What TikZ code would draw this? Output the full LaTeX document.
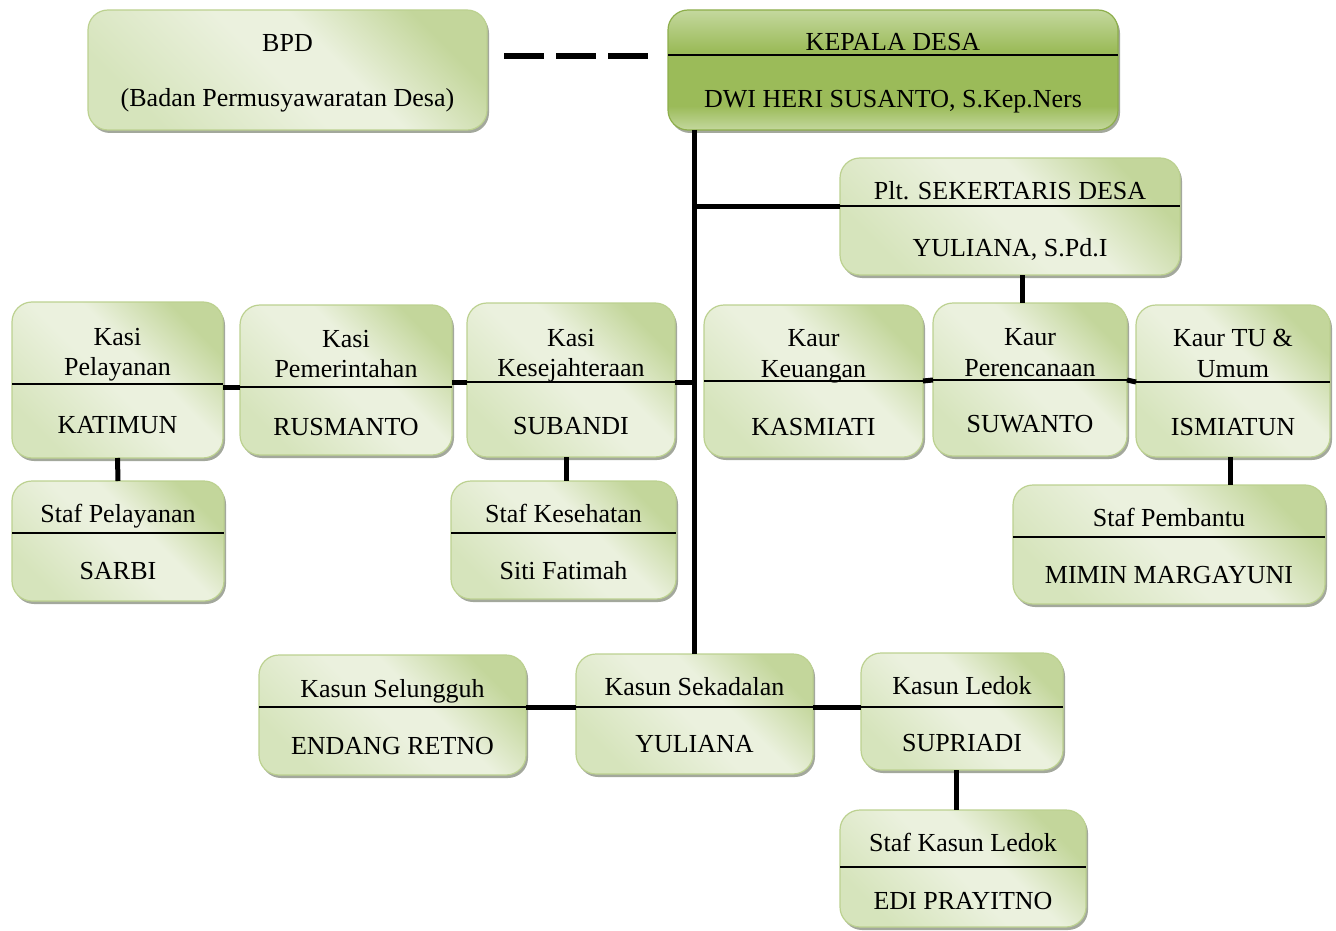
\documentclass[tikz,border=0pt]{standalone}
\usepackage{fontspec}
\setmainfont{Liberation Serif}
\usetikzlibrary{shadows}
\definecolor{gdark}{HTML}{C3D69B}
\definecolor{gmid}{HTML}{D6E4BC}
\definecolor{glight}{HTML}{EBF1DE}
\definecolor{gborder}{HTML}{BCD190}
\definecolor{kmid}{HTML}{9BBB59}
\definecolor{klight}{HTML}{C4D89E}
\definecolor{kborder}{HTML}{8DAE4B}
\definecolor{shadowgray}{HTML}{A3A89C}
\pgfdeclarehorizontalshading{boxshade}{100bp}{color(0bp)=(gmid); color(25bp)=(gmid); color(48bp)=(glight); color(58bp)=(glight); color(75bp)=(gdark); color(100bp)=(gdark)}
\pgfdeclareverticalshading{kshade}{100bp}{color(0bp)=(klight); color(25bp)=(klight); color(35bp)=(kmid); color(58bp)=(kmid); color(75bp)=(klight); color(100bp)=(klight)}
\tikzset{
  box/.style={rectangle, rounded corners=20pt, draw=gborder, line width=1.2pt, inner sep=0pt, outer sep=0pt,
    drop shadow={shadow xshift=2pt, shadow yshift=-3pt, fill=shadowgray, opacity=1},
    shade, shading=boxshade, shading angle=45},
  kbox/.style={box, draw=kborder, shading=kshade, shading angle=0},
  divider/.style={line width=2.5pt, black},
  conn/.style={line width=5pt, black},
  dashline/.style={line width=6pt, black, dash pattern=on 40pt off 12pt},
  txt/.style={font=\fontsize{26}{30}\selectfont, inner sep=0pt, anchor=base, text=black}
}
% #1 style, #2 name, #3 x1, #4 y1, #5 x2, #6 y2, #7 divider y
\newcommand{\orgbox}[7][box]{%
  \node[#1, minimum width={(#5-#3)*1pt}, minimum height={(#6-#4)*1pt}] (#2) at ({(#3+#5)/2},{(#4+#6)/2}) {};
  \coordinate (#2-dl) at (#3,#7);
  \coordinate (#2-dr) at (#5,#7);
  \draw[divider] (#2-dl) -- (#2-dr);}
% #1 name, #2 box, #3 baseline y, #4 text
\newcommand{\ot}[4]{\node[txt] (#1) at (#2.center |- 0,#3) {#4};}
\begin{document}
\begin{tikzpicture}[x=1pt, y=-1pt]
\useasboundingbox (0,0) rectangle (1336,931);

% BPD
\node[box, minimum width=399pt, minimum height=120pt] (bpd) at (287.5,70) {};
\ot{bpd-a}{bpd}{52}{BPD}
\ot{bpd-b}{bpd}{107}{(Badan Permusyawaratan Desa)}

% Kepala Desa
\orgbox[kbox]{kd}{668}{10}{1118}{130}{55}
\ot{kd-a}{kd}{51}{KEPALA DESA}
\ot{kd-b}{kd}{108}{DWI HERI SUSANTO, S.Kep.Ners}

% dashed BPD link
\coordinate (dash-a) at (504,56);
\coordinate (dash-b) at (648,56);
\draw[dashline] (dash-a) -- (dash-b);

% Sekretaris
\orgbox{sek}{840}{158}{1180}{275}{206}
\ot{sek-a}{sek}{199}{Plt. SEKERTARIS DESA}
\ot{sek-b}{sek}{256}{YULIANA, S.Pd.I}

% Kasi row
\orgbox{kpl}{12}{302}{223}{458}{384}
\ot{kpl-a}{kpl}{345}{Kasi}
\ot{kpl-b}{kpl}{375}{Pelayanan}
\ot{kpl-c}{kpl}{433}{KATIMUN}

\orgbox{kpm}{240}{305}{452}{455}{387}
\ot{kpm-a}{kpm}{347}{Kasi}
\ot{kpm-b}{kpm}{377}{Pemerintahan}
\ot{kpm-c}{kpm}{435}{RUSMANTO}

\orgbox{kkj}{467}{303}{675}{457}{382}
\ot{kkj-a}{kkj}{346}{Kasi}
\ot{kkj-b}{kkj}{376}{Kesejahteraan}
\ot{kkj-c}{kkj}{434}{SUBANDI}

% Kaur row
\orgbox{kku}{704}{305}{923}{457}{381}
\ot{kku-a}{kku}{346}{Kaur}
\ot{kku-b}{kku}{377}{Keuangan}
\ot{kku-c}{kku}{435}{KASMIATI}

\orgbox{kpr}{933}{303}{1127}{456}{380}
\ot{kpr-a}{kpr}{345}{Kaur}
\ot{kpr-b}{kpr}{376}{Perencanaan}
\ot{kpr-c}{kpr}{432}{SUWANTO}

\orgbox{ktu}{1136}{305}{1330}{457}{382}
\ot{ktu-a}{ktu}{346}{Kaur TU \&}
\ot{ktu-b}{ktu}{377}{Umum}
\ot{ktu-c}{ktu}{435}{ISMIATUN}

% Staf row
\orgbox{spl}{12}{481}{224}{601}{533}
\ot{spl-a}{spl}{522}{Staf Pelayanan}
\ot{spl-b}{spl}{579}{SARBI}

\orgbox{skk}{451}{481}{676}{599}{533}
\ot{skk-a}{skk}{522}{Staf Kesehatan}
\ot{skk-b}{skk}{579}{Siti Fatimah}

\orgbox{spb}{1013}{485}{1325}{604}{537}
\ot{spb-a}{spb}{526}{Staf Pembantu}
\ot{spb-b}{spb}{583}{MIMIN MARGAYUNI}

% Kasun row
\orgbox{ksl}{259}{655}{526}{775}{707}
\ot{ksl-a}{ksl}{697}{Kasun Selungguh}
\ot{ksl-b}{ksl}{754}{ENDANG RETNO}

\orgbox{ks}{576}{654}{813}{774}{707}
\ot{ks-a}{ks}{695}{Kasun Sekadalan}
\ot{ks-b}{ks}{752}{YULIANA}

\orgbox{kl}{861}{653}{1063}{770}{707}
\ot{kl-a}{kl}{694}{Kasun Ledok}
\ot{kl-b}{kl}{751}{SUPRIADI}

\orgbox{skl}{840}{810}{1086}{927}{867}
\ot{skl-a}{skl}{851}{Staf Kasun Ledok}
\ot{skl-b}{skl}{909}{EDI PRAYITNO}

% connectors
\coordinate (x-sp) at (1022,0);
\coordinate (x-kes) at (566,0);
\coordinate (x-tu) at (1230,0);
\coordinate (x-led) at (956,0);

\draw[conn] (kd.south -| ks.north) -- (ks.north);
\draw[conn] (sek-dl) -- (sek-dl -| ks.north);
\draw[conn] (kkj-dr) -- (kkj-dr -| ks.north);
\draw[conn] (sek.south -| x-sp) -- (kpr.north -| x-sp);

\draw[conn] (kpl.east |- kpm-dl) -- (kpm-dl);
\draw[conn] (kpm.east |- kkj-dl) -- (kkj-dl);
\draw[conn] (kku-dr) -- (kpr-dl);
\draw[conn] (kpr-dr) -- (ktu-dl);

\draw[conn] (kpl.south) -- (spl.north);
\draw[conn] (kkj.south -| x-kes) -- (skk.north -| x-kes);
\draw[conn] (ktu.south -| x-tu) -- (spb.north -| x-tu);

\draw[conn] (ksl-dr) -- (ks-dl);
\draw[conn] (ks-dr) -- (kl-dl);
\draw[conn] (kl.south -| x-led) -- (skl.north -| x-led);
\end{tikzpicture}
\end{document}
